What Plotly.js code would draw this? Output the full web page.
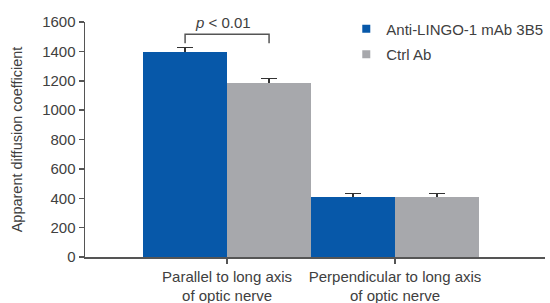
<!DOCTYPE html>
<html>
<head>
<meta charset="utf-8">
<script src="https://cdn.plot.ly/plotly-3.0.1.min.js"></script>
<style>html,body{margin:0;padding:0;background:#fff;}#chart{width:550px;height:303px;}</style>
</head>
<body>
<div id="chart"></div>
<script>
var categories = ["Parallel to long axis<br>of optic nerve", "Perpendicular to long axis<br>of optic nerve"];
var seriesNames = ["Anti-LINGO-1 mAb 3B5", "Ctrl Ab"];
var antiLingoValues = [1395, 411];
var antiLingoErrors = [32, 22];
var ctrlValues = [1182, 410];
var ctrlErrors = [34, 22];
var yTickValues = [0, 200, 400, 600, 800, 1000, 1200, 1400, 1600];
var pValueLabel = "<i>p</i> < 0.01";
var bracketLow = 1455, bracketHigh = 1516;

var colors = ["#0758A9", "#A7A8AC"];
var font = {family: "Liberation Sans, Arial, sans-serif", size: 15, color: "#404040"};

function barTrace(name, vals, errs, color, group, withErr) {
  var t = {
    type: "bar", name: name, x: categories, y: vals, offsetgroup: group, alignmentgroup: "all",
    marker: {color: color, line: {width: 0}},
    showlegend: false, cliponaxis: false
  };
  if (withErr) {
    t.error_y = {type: "data", symmetric: true, array: errs, color: "#333", thickness: 1.5, width: 8};
  }
  return t;
}
function legendTrace(name, color, grp) {
  return {type: "scatter", mode: "markers", name: name, x: [null], y: [null], legendgroup: grp,
          marker: {symbol: "square", size: 8, color: color}, showlegend: true};
}

var data = [
  barTrace(seriesNames[0], antiLingoValues, antiLingoErrors, colors[0], "a", true),
  barTrace(seriesNames[1], ctrlValues, ctrlErrors, colors[1], "b", true),
  barTrace(seriesNames[0], antiLingoValues, antiLingoErrors, colors[0], "a", false),
  barTrace(seriesNames[1], ctrlValues, ctrlErrors, colors[1], "b", false),
  legendTrace(seriesNames[0], colors[0], "g1"),
  legendTrace(seriesNames[1], colors[1], "g2")
];

var layout = {
  width: 550, height: 303,
  margin: {l: 85, r: 2, t: 22, b: 45.5},
  paper_bgcolor: "#fff", plot_bgcolor: "#fff",
  font: font,
  barmode: "group", bargap: 0, bargroupgap: 0,
  xaxis: {
    type: "category", range: [-0.846, 1.893],
    showline: true, linecolor: "#555", linewidth: 1.5,
    ticks: "outside", ticklen: 5, tickcolor: "#555", tickwidth: 1.5,
    showgrid: false, zeroline: false, tickfont: font
  },
  yaxis: {
    range: [0, 1600], tickvals: yTickValues, ticktext: yTickValues.map(String),
    showline: true, linecolor: "#555", linewidth: 1.5,
    ticks: "outside", ticklen: 5, tickcolor: "#555", tickwidth: 1.5,
    showgrid: false, zeroline: false, tickfont: font,
    title: {text: "Apparent diffusion coefficient", font: {family: font.family, size: 14.5, color: "#404040"}, standoff: 16}
  },
  legend: {x: 0.568, xanchor: "left", y: 1.04, yanchor: "top", font: font,
           bgcolor: "rgba(0,0,0,0)", tracegroupgap: 3},
  shapes: [{
    type: "path", xref: "x", yref: "y",
    path: "M -0.25," + bracketLow + " L -0.25," + bracketHigh + " L 0.25," + bracketHigh + " L 0.25," + bracketLow,
    line: {color: "#555", width: 1.5}
  }],
  annotations: [{
    x: 0, xref: "x", y: bracketHigh, yref: "y", yanchor: "bottom", xshift: -4, yshift: 1,
    text: pValueLabel, showarrow: false, font: font
  }]
};

Plotly.newPlot("chart", data, layout, {displayModeBar: false, staticPlot: true});
</script>
</body>
</html>
